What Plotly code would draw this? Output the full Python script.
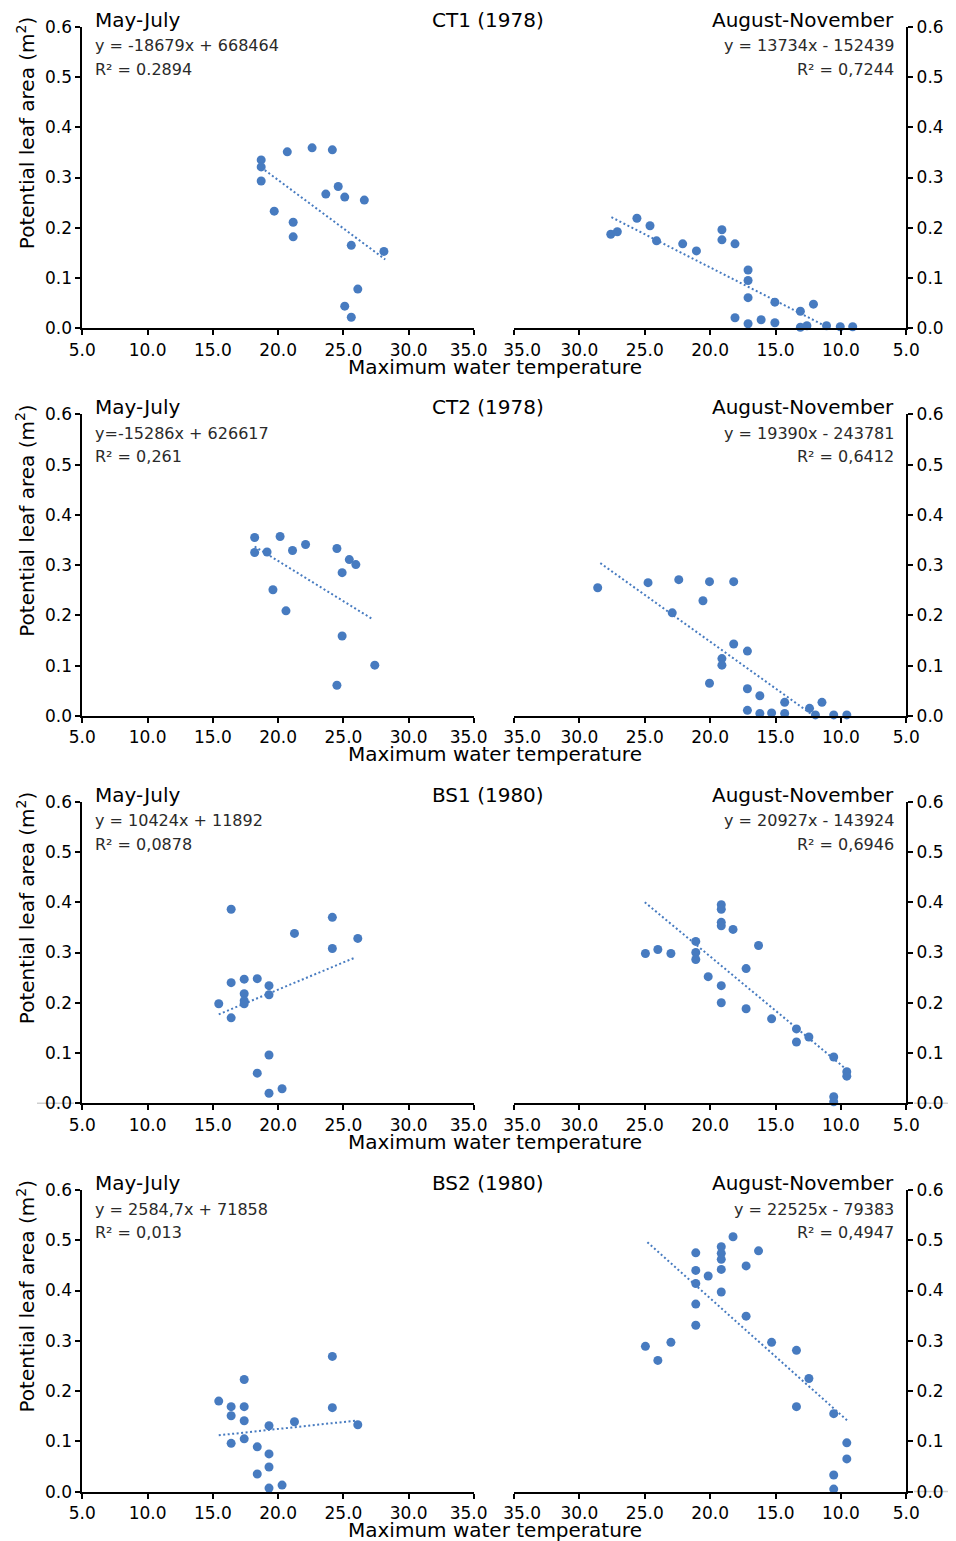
import plotly.graph_objects as go

# page body adds an 8px margin; the figure is sized/offset to compensate
OFF = 8
W, H = 956 - OFF, 1541 - OFF

# ---------------- data ----------------
sites = ["CT1 (1978)", "CT2 (1978)", "BS1 (1980)", "BS2 (1980)"]
eq_left = ["y = -18679x + 668464", "y=-15286x + 626617", "y = 10424x + 11892", "y = 2584,7x + 71858"]
r2_left = ["R² = 0.2894", "R² = 0,261", "R² = 0,0878", "R² = 0,013"]
eq_right = ["y = 13734x - 152439", "y = 19390x - 243781", "y = 20927x - 143924", "y = 22525x - 79383"]
r2_right = ["R² = 0,7244", "R² = 0,6412", "R² = 0,6946", "R² = 0,4947"]

x_ticks = [5, 10, 15, 20, 25, 30, 35]
y_ticks = [0.0, 0.1, 0.2, 0.3, 0.4, 0.5, 0.6]

# CT1 May-July
ct1_mj_x = [18.7, 18.7, 18.7, 20.7, 22.6, 24.15, 19.7, 21.15, 21.15, 23.65, 24.6, 25.1, 26.6, 25.6, 28.1, 26.1, 25.1, 25.6]
ct1_mj_y = [0.335, 0.321, 0.293, 0.351, 0.359, 0.355, 0.233, 0.211, 0.182, 0.267, 0.282, 0.261, 0.255, 0.165, 0.153, 0.078, 0.044, 0.022]
ct1_mj_tx = [18.7, 28.2]
ct1_mj_ty = [0.320, 0.137]
# CT1 August-November
ct1_an_x = [27.6, 27.1, 25.6, 24.6, 24.1, 22.1, 21.05, 19.1, 19.1, 18.1, 17.1, 17.1, 17.1, 18.1, 17.1, 16.1, 15.05, 15.05, 13.1, 12.1, 13.1, 12.6, 11.1, 10.05, 9.1]
ct1_an_y = [0.187, 0.192, 0.219, 0.204, 0.174, 0.168, 0.154, 0.196, 0.176, 0.168, 0.116, 0.095, 0.061, 0.021, 0.009, 0.017, 0.052, 0.011, 0.034, 0.048, 0.002, 0.005, 0.005, 0.003, 0.003]
ct1_an_tx = [27.55, 10.1]
ct1_an_ty = [0.221, -0.010]

# CT2 May-July
ct2_mj_x = [18.2, 18.2, 19.15, 20.15, 21.1, 22.1, 24.5, 25.45, 25.95, 24.9, 19.6, 20.6, 24.9, 27.4, 24.5]
ct2_mj_y = [0.355, 0.325, 0.326, 0.357, 0.329, 0.341, 0.333, 0.311, 0.301, 0.285, 0.251, 0.209, 0.159, 0.101, 0.061]
ct2_mj_tx = [18.2, 27.2]
ct2_mj_ty = [0.337, 0.193]
# CT2 August-November
ct2_an_x = [28.6, 24.75, 22.4, 20.05, 18.2, 20.55, 22.9, 18.2, 17.15, 19.1, 19.1, 20.05, 17.15, 16.2, 17.15, 16.2, 15.3, 14.3, 14.3, 12.4, 11.95, 11.45, 10.55, 9.55]
ct2_an_y = [0.255, 0.265, 0.271, 0.267, 0.267, 0.229, 0.205, 0.143, 0.129, 0.114, 0.101, 0.065, 0.054, 0.040, 0.011, 0.005, 0.006, 0.005, 0.027, 0.015, 0.002, 0.027, 0.002, 0.002]
ct2_an_tx = [28.4, 11.1]
ct2_an_ty = [0.304, -0.018]

# BS1 May-July
bs1_mj_x = [16.4, 24.15, 21.25, 26.1, 24.15, 16.4, 17.4, 18.4, 19.3, 19.3, 17.4, 17.4, 17.4, 15.45, 16.4, 19.3, 18.4, 20.3, 19.3]
bs1_mj_y = [0.386, 0.370, 0.338, 0.328, 0.308, 0.240, 0.247, 0.248, 0.234, 0.216, 0.218, 0.204, 0.198, 0.198, 0.170, 0.096, 0.060, 0.029, 0.020]
bs1_mj_tx = [15.45, 25.9]
bs1_mj_ty = [0.177, 0.290]
# BS1 August-November
bs1_an_x = [24.95, 24.0, 23.0, 21.1, 21.1, 21.1, 20.15, 19.15, 19.15, 19.15, 19.15, 18.25, 16.3, 17.25, 19.15, 19.15, 17.25, 15.3, 13.4, 13.4, 12.45, 10.55, 9.55, 9.55, 10.55, 10.55]
bs1_an_y = [0.298, 0.306, 0.298, 0.322, 0.300, 0.286, 0.252, 0.395, 0.386, 0.360, 0.353, 0.346, 0.314, 0.268, 0.234, 0.200, 0.188, 0.168, 0.148, 0.122, 0.132, 0.092, 0.063, 0.054, 0.013, 0.003]
bs1_an_tx = [25.0, 9.7]
bs1_an_ty = [0.400, 0.070]

# BS2 May-July
bs2_mj_x = [15.45, 16.4, 17.4, 17.4, 16.4, 17.4, 16.4, 17.4, 18.4, 19.3, 19.3, 19.3, 18.4, 19.3, 20.3, 21.25, 24.15, 24.15, 26.1]
bs2_mj_y = [0.180, 0.169, 0.169, 0.223, 0.151, 0.141, 0.096, 0.105, 0.089, 0.131, 0.075, 0.049, 0.035, 0.007, 0.013, 0.139, 0.269, 0.167, 0.133]
bs2_mj_tx = [15.45, 25.9]
bs2_mj_ty = [0.112, 0.141]
# BS2 August-November
bs2_an_x = [24.95, 24.0, 23.0, 21.1, 21.1, 21.1, 21.1, 21.1, 20.15, 19.15, 19.15, 19.15, 19.15, 19.15, 18.25, 17.25, 16.3, 17.25, 15.3, 13.4, 12.45, 13.4, 10.55, 9.55, 9.55, 10.55, 10.55]
bs2_an_y = [0.289, 0.261, 0.297, 0.475, 0.440, 0.414, 0.373, 0.331, 0.429, 0.487, 0.474, 0.462, 0.442, 0.397, 0.507, 0.449, 0.479, 0.349, 0.297, 0.281, 0.225, 0.169, 0.155, 0.097, 0.065, 0.033, 0.005]
bs2_an_tx = [24.8, 9.5]
bs2_an_ty = [0.496, 0.141]

panels = [
    (ct1_mj_x, ct1_mj_y, ct1_mj_tx, ct1_mj_ty, ct1_an_x, ct1_an_y, ct1_an_tx, ct1_an_ty),
    (ct2_mj_x, ct2_mj_y, ct2_mj_tx, ct2_mj_ty, ct2_an_x, ct2_an_y, ct2_an_tx, ct2_an_ty),
    (bs1_mj_x, bs1_mj_y, bs1_mj_tx, bs1_mj_ty, bs1_an_x, bs1_an_y, bs1_an_tx, bs1_an_ty),
    (bs2_mj_x, bs2_mj_y, bs2_mj_tx, bs2_mj_ty, bs2_an_x, bs2_an_y, bs2_an_tx, bs2_an_ty),
]

# ---------------- style / layout (positions in page pixels) ----------------
BLUE = "#477BC0"
FONT = "DejaVu Sans"
row_tops = [26.7, 414.3, 801.7, 1190.0]
PANEL_H = 301.6
LEFT_X = (82.3, 474.0)
RIGHT_X = (514.0, 906.3)
NB = "\u00a0"


def px(v):
    return (v - OFF) / W


def py(v):
    return 1 - (v - OFF) / H


fig = go.Figure()
annotations = []
shapes = []
layout = {}

axis_common = dict(
    showline=True, linecolor="black", linewidth=1.8, ticks="outside", ticklen=5,
    tickwidth=1.8, tickcolor="black", showgrid=False, zeroline=False, automargin=False,
    tickfont=dict(family=FONT, size=17, color="black"), fixedrange=True,
)

left_xt = [f"{v:.1f}" for v in x_ticks]
left_xt[-1] = left_xt[-1] + NB * 2
right_xt = [f"{v:.1f}" for v in x_ticks]
right_xt[-1] = NB * 3 + right_xt[-1]

for r, (mx, my, mtx, mty, ax_, ay_, atx, aty) in enumerate(panels):
    top = row_tops[r]
    bot = top + PANEL_H
    ydom = [py(bot), py(top)]
    il = 2 * r + 1
    ir = 2 * r + 2
    xl = "x" if il == 1 else f"x{il}"
    yl = "y" if il == 1 else f"y{il}"
    xr = f"x{ir}"
    yr = f"y{ir}"

    layout["xaxis" if il == 1 else f"xaxis{il}"] = dict(
        axis_common, domain=[px(LEFT_X[0]), px(LEFT_X[1])], range=[5, 35],
        tickvals=x_ticks, ticktext=left_xt, anchor=yl)
    layout["yaxis" if il == 1 else f"yaxis{il}"] = dict(
        axis_common, domain=ydom, range=[0, 0.6], side="left",
        tickvals=y_ticks, ticktext=[f"{v:.1f}" for v in y_ticks], anchor=xl)
    layout[f"xaxis{ir}"] = dict(
        axis_common, domain=[px(RIGHT_X[0]), px(RIGHT_X[1])], range=[35, 5],
        tickvals=x_ticks, ticktext=right_xt, anchor=yr)
    layout[f"yaxis{ir}"] = dict(
        axis_common, domain=ydom, range=[0, 0.6], side="right",
        tickvals=y_ticks, ticktext=[f"{v:.1f}" for v in y_ticks], anchor=xr)

    for (xs, ys, txs, tys, xa, ya) in [(mx, my, mtx, mty, xl, yl), (ax_, ay_, atx, aty, xr, yr)]:
        fig.add_trace(go.Scatter(
            x=txs, y=tys, mode="lines", xaxis=xa, yaxis=ya, cliponaxis=False,
            line=dict(color=BLUE, width=2, dash="2px,2.5px"), showlegend=False, hoverinfo="skip"))
        fig.add_trace(go.Scatter(
            x=xs, y=ys, mode="markers", xaxis=xa, yaxis=ya, cliponaxis=False,
            marker=dict(color=BLUE, size=9, line=dict(width=0)), showlegend=False))

    def ann(text, x, y, size, xanchor="left", color="black", angle=0):
        annotations.append(dict(
            text=text, x=px(x), y=py(y), xref="paper", yref="paper", showarrow=False,
            xanchor=xanchor, yanchor="middle", textangle=angle,
            font=dict(family=FONT, size=size, color=color)))

    ann("May-July", 93, top - 7, 20)
    ann(sites[r], 488, top - 7, 20, xanchor="center")
    ann("August-November", 896, top - 7, 20, xanchor="right")
    ann(eq_left[r], 93, top + 19, 16, color="#2a2a2a")
    ann(r2_left[r], 93, top + 42.5, 16, color="#2a2a2a")
    ann(eq_right[r], 896, top + 19, 16, xanchor="right", color="#2a2a2a")
    ann(r2_right[r], 896, top + 42.5, 16, xanchor="right", color="#2a2a2a")
    ann("Maximum water temperature", 494.5, bot + 38.5, 20, xanchor="center")
    ann("Potential leaf area (m<sup>2</sup>)", 25.5, top + 107, 20, xanchor="center", angle=-90)

# faint grey baseline remnants visible in the lower panels of the original
for (x0, x1, yv) in [(37, 74, row_tops[2] + PANEL_H), (914, 956, row_tops[2] + PANEL_H),
                     (914, 948, row_tops[3] + PANEL_H)]:
    shapes.append(dict(type="line", xref="paper", yref="paper", x0=px(x0), x1=px(x1),
                       y0=py(yv), y1=py(yv), line=dict(color="#cfcfcf", width=1.5), layer="below"))

fig.update_layout(
    template="none",
    width=W, height=H, margin=dict(l=0, r=0, t=0, b=0, autoexpand=False),
    paper_bgcolor="white", plot_bgcolor="white", showlegend=False,
    annotations=annotations, shapes=shapes, **layout)

fig.write_html("out.html")
